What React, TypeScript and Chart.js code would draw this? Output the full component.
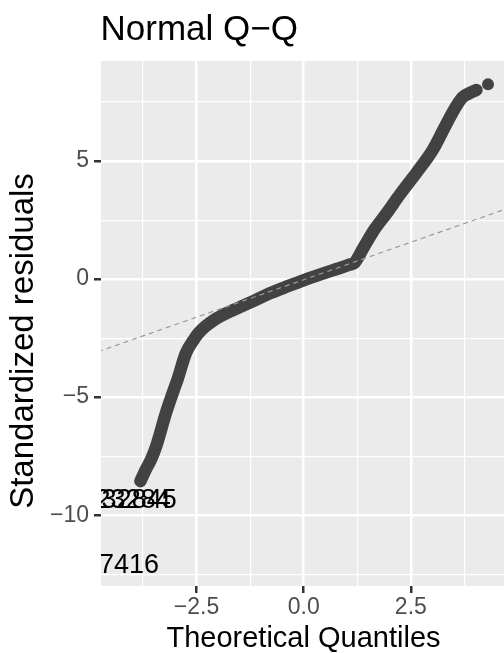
import React, { useEffect, useRef } from "react";
import { Chart, registerables } from "chart.js";

Chart.register(...registerables);

// Sample quantiles (standardized residuals) against theoretical normal quantiles
const bandX = [
  -3.81, -3.69, -3.56, -3.45, -3.33, -3.23, -3.01, -2.95, -2.75, -2.56, -2.45,
  -2.29, -2.1, -1.91, -1.53, -1.14, -0.76, -0.37, 0.01, 0.39, 0.77, 1.05, 1.19,
  1.4, 1.65, 1.93, 2.25, 2.62, 3.01, 3.28, 3.55, 3.71, 3.87, 4.03,
];
const bandY = [
  -8.56, -8.09, -7.63, -7.12, -6.4, -5.76, -4.58, -4.28, -3.14, -2.55, -2.28,
  -2.0, -1.74, -1.54, -1.22, -0.9, -0.58, -0.3, -0.04, 0.2, 0.43, 0.6, 0.7,
  1.35, 2.1, 2.78, 3.6, 4.48, 5.47, 6.4, 7.3, 7.71, 7.88, 8.01,
];

// Isolated extreme point at the upper tail
const tailX = [4.3];
const tailY = [8.25];

// Reference line through the quartiles
const qqLineX = [-5, 5];
const qqLineY = [-3.2, 3.15];

// Observation labels for the largest residuals
const outlierLabels = ["23284", "32845", "7416"];
const outlierX = [-3.98, -3.84, -4.075];
const outlierY = [-9.3, -9.3, -12.03];

// Axis ticks
const xMajorTicks = [-2.5, 0, 2.5];
const xMinorTicks = [-3.75, -1.25, 1.25, 3.75];
const xTickLabels = ["\u22122.5", "0.0", "2.5"];
const yMajorTicks = [-10, -5, 0, 5];
const yMinorTicks = [-12.5, -7.5, -2.5, 2.5, 7.5];
const yTickLabels = ["\u221210", "\u22125", "0", "5"];

const FONT = "'Liberation Sans', Arial, Helvetica, sans-serif";
const POINT_COLOR = "#424242";

const isIn = (arr: number[], v: number) => arr.some((a) => Math.abs(a - v) < 1e-9);

const panelPlugin = {
  id: "panelDecor",
  beforeDraw(chart: any) {
    const { ctx, chartArea } = chart;
    ctx.save();
    ctx.fillStyle = "#EBEBEB";
    ctx.fillRect(chartArea.left, chartArea.top, chartArea.right - chartArea.left, chartArea.bottom - chartArea.top);
    ctx.restore();
  },
  afterDatasetsDraw(chart: any) {
    const { ctx, chartArea, scales } = chart;
    ctx.save();
    ctx.beginPath();
    ctx.rect(chartArea.left, chartArea.top, chartArea.right - chartArea.left, chartArea.bottom - chartArea.top);
    ctx.clip();
    ctx.fillStyle = "#000000";
    ctx.font = `27px ${FONT}`;
    ctx.textAlign = "center";
    ctx.textBaseline = "alphabetic";
    outlierLabels.forEach((txt, i) => {
      const px = scales.x.getPixelForValue(outlierX[i]);
      const py = scales.y.getPixelForValue(outlierY[i]);
      ctx.fillText(txt, px, py + 27 * 0.36);
    });
    ctx.restore();
  },
  afterDraw(chart: any) {
    const { ctx, chartArea } = chart;
    ctx.save();
    ctx.fillStyle = "#000000";
    // Plot title
    ctx.font = `35px ${FONT}`;
    ctx.textAlign = "left";
    ctx.textBaseline = "alphabetic";
    ctx.fillText("Normal Q\u2212Q", chartArea.left - 0.5, 40);
    // x-axis title
    ctx.font = `29px ${FONT}`;
    ctx.textAlign = "center";
    ctx.fillText("Theoretical Quantiles", (chartArea.left + chartArea.right) / 2, 647);
    // y-axis title
    ctx.save();
    ctx.translate(33, 341);
    ctx.rotate(-Math.PI / 2);
    ctx.font = `33px ${FONT}`;
    ctx.textAlign = "center";
    ctx.fillText("Standardized residuals", 0, 0);
    ctx.restore();
    ctx.restore();
  },
};

export default function App() {
  const canvasRef = useRef<HTMLCanvasElement | null>(null);

  useEffect(() => {
    const canvas = canvasRef.current;
    if (!canvas) return;

    const band = bandX.map((x, i) => ({ x, y: bandY[i] }));
    const tail = tailX.map((x, i) => ({ x, y: tailY[i] }));
    const qqLine = qqLineX.map((x, i) => ({ x, y: qqLineY[i] }));

    const xTicks = [...xMinorTicks, ...xMajorTicks].sort((a, b) => a - b);
    const yTicks = [...yMinorTicks, ...yMajorTicks].sort((a, b) => a - b);

    const chart = new Chart(canvas, {
      type: "scatter",
      data: {
        datasets: [
          {
            data: qqLine,
            showLine: true,
            borderColor: "#9A9A9A",
            borderWidth: 1.2,
            borderDash: [5, 4],
            pointRadius: 0,
          },
          {
            data: tail,
            pointRadius: 6,
            pointBackgroundColor: POINT_COLOR,
            pointBorderWidth: 0,
          },
          {
            data: band,
            showLine: true,
            borderColor: POINT_COLOR,
            borderWidth: 12.5,
            borderCapStyle: "round",
            borderJoinStyle: "round",
            cubicInterpolationMode: "monotone",
            pointRadius: 0,
          },
        ] as any,
      },
      options: {
        animation: false,
        responsive: false,
        devicePixelRatio: 1,
        layout: { padding: { top: 61, right: 1, left: 0, bottom: 0 } },
        plugins: {
          legend: { display: false },
          tooltip: { enabled: false },
          title: { display: false },
        },
        scales: {
          x: {
            type: "linear",
            min: -4.73,
            max: 4.72,
            afterBuildTicks: (s: any) => {
              s.ticks = xTicks.map((value) => ({ value }));
            },
            afterFit: (s: any) => {
              s.height = 67;
            },
            border: { display: false },
            grid: {
              color: "#FFFFFF",
              lineWidth: (c: any) => (isIn(xMajorTicks, c.tick?.value) ? 2.5 : 1.2),
              tickColor: (c: any) => (isIn(xMajorTicks, c.tick?.value) ? "#333333" : "rgba(0,0,0,0)"),
              tickWidth: 2.5,
              tickLength: 7,
            },
            ticks: {
              autoSkip: false,
              maxRotation: 0,
              minRotation: 0,
              padding: 1,
              color: "#4D4D4D",
              font: { family: FONT, size: 23 },
              callback: (value: any) => {
                const idx = xMajorTicks.findIndex((t) => Math.abs(t - Number(value)) < 1e-9);
                return idx >= 0 ? xTickLabels[idx] : "";
              },
            },
          },
          y: {
            type: "linear",
            min: -13.0,
            max: 9.24,
            afterBuildTicks: (s: any) => {
              s.ticks = yTicks.map((value) => ({ value }));
            },
            afterFit: (s: any) => {
              s.width = 101;
            },
            border: { display: false },
            grid: {
              color: "#FFFFFF",
              lineWidth: (c: any) => (isIn(yMajorTicks, c.tick?.value) ? 2.5 : 1.2),
              tickColor: (c: any) => (isIn(yMajorTicks, c.tick?.value) ? "#333333" : "rgba(0,0,0,0)"),
              tickWidth: 2.5,
              tickLength: 7,
            },
            ticks: {
              autoSkip: false,
              padding: 5,
              color: "#4D4D4D",
              font: { family: FONT, size: 23 },
              callback: (value: any) => {
                const idx = yMajorTicks.findIndex((t) => Math.abs(t - Number(value)) < 1e-9);
                return idx >= 0 ? yTickLabels[idx] : "";
              },
            },
          },
        },
      } as any,
      plugins: [panelPlugin],
    });

    return () => chart.destroy();
  }, []);

  return (
    <div
      style={{
        position: "fixed",
        left: 0,
        top: 0,
        width: 504,
        height: 653,
        overflow: "hidden",
        background: "#FFFFFF",
      }}
    >
      <canvas ref={canvasRef} width={512} height={653} style={{ display: "block", width: 512, height: 653 }} />
    </div>
  );
}
